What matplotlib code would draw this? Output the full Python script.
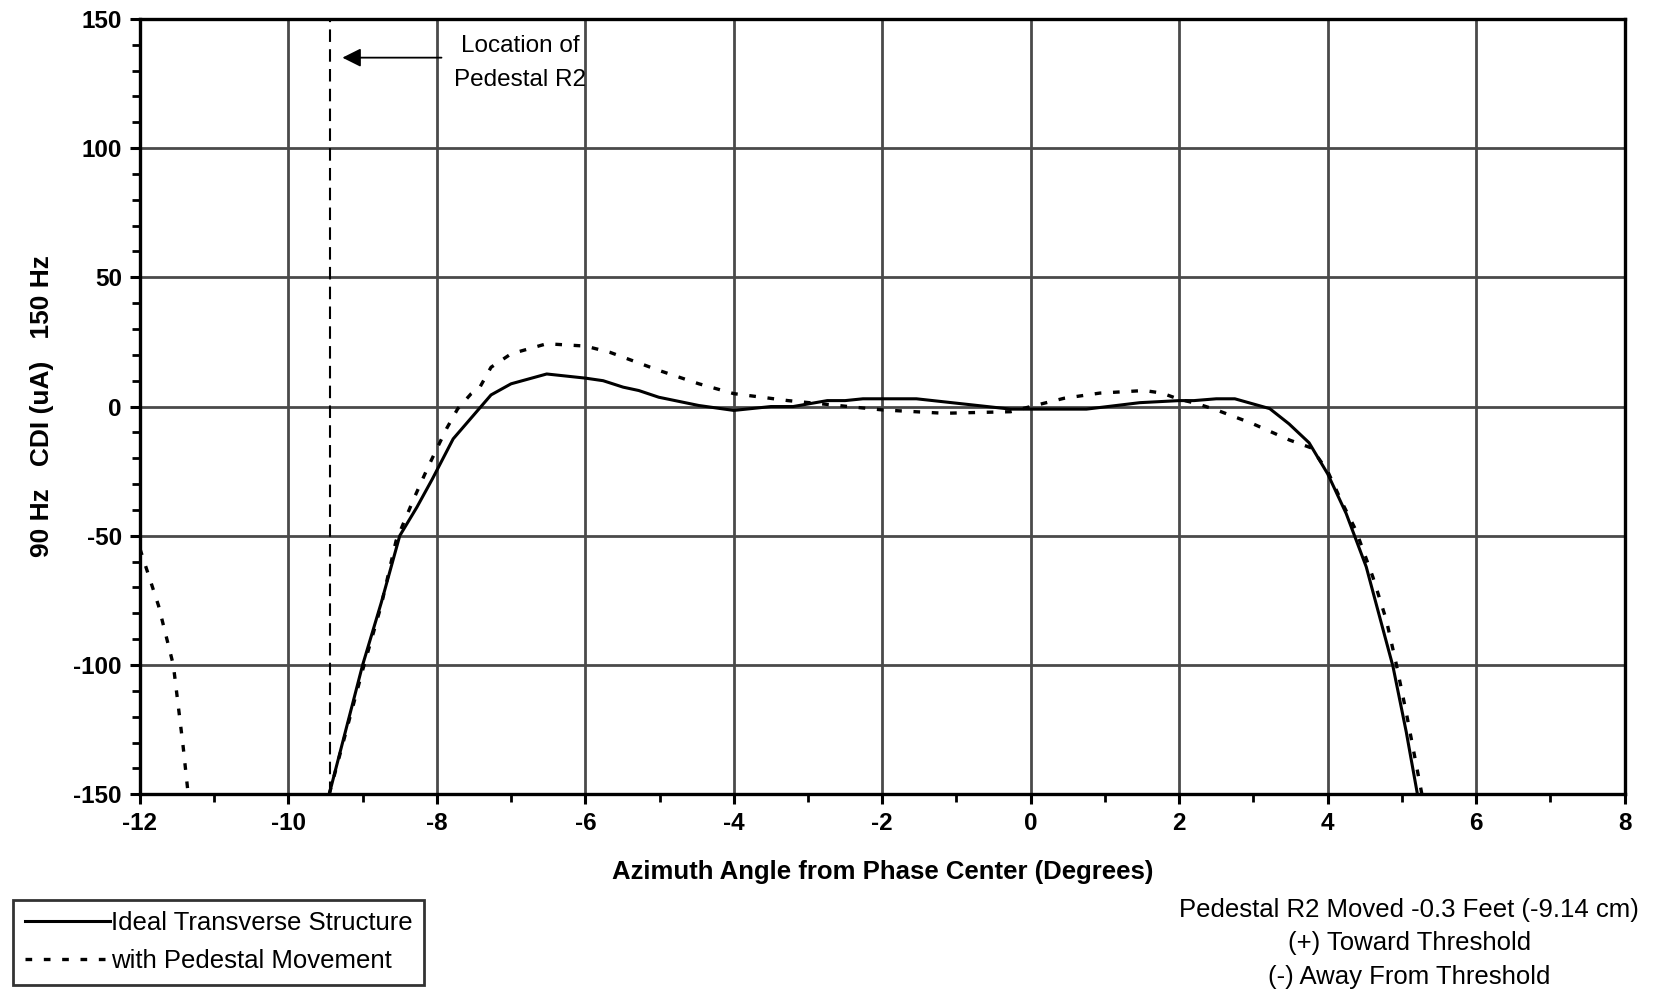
import numpy as np
import matplotlib
matplotlib.use("Agg")
import matplotlib.pyplot as plt
from matplotlib.ticker import MultipleLocator

# ideal structure (solid)
ideal_x = [-9.45, -9.0, -8.75, -8.5, -8.27, -8.06, -7.78, -7.27, -7.0, -6.52, -6.0, -5.76,
           -5.49, -5.28, -5.01, -4.47, -4.0, -3.5, -3.2, -2.74, -2.5, -2.26, -1.54, -0.27,
           0.75, 1.47, 2.0, 2.2, 2.5, 2.75, 3.22, 3.48, 3.75, 4.0, 4.25, 4.52, 4.76, 4.88,
           5.06, 5.21]
ideal_y = [-150, -100, -76, -50, -39, -28, -12.5, 4.5, 8.8, 12.6, 11, 10,
           7.5, 6.2, 3.6, 0.4, -1.5, 0, 0, 2.3, 2.3, 3, 3, -1,
           -1, 1.5, 2.3, 2.3, 3, 3, -0.8, -6.7, -14, -26, -41.4, -62, -87.7, -100.5,
           -126, -150]

# with pedestal movement (dotted), left branch drops off the chart
moved_left_x = [-12.0, -11.75, -11.55, -11.42, -11.35]
moved_left_y = [-55, -77, -100, -131, -150]
moved_x = [-9.45, -9.0, -8.75, -8.55, -8.3, -8.12, -7.99, -7.87, -7.72, -7.54, -7.42, -7.27,
           -7.0, -6.52, -6.0, -5.67, -5.01, -4.47, -4.0, -3.27, -2.66, -2.0, -1.17, -0.27,
           0.0, 0.45, 0.93, 1.53, 1.77, 2.0, 2.22, 2.5, 2.98, 3.49, 3.78, 4.0, 4.2, 4.38,
           4.61, 4.79, 4.92, 5.06, 5.27]
moved_y = [-150, -102, -77, -52, -35, -23.5, -15.7, -8.6, -0.9, 4.9, 7.5, 15.2,
           20.4, 24.3, 23.4, 21, 14, 8.8, 5, 2.3, 0.6, -1.3, -2.6, -2,
           0, 3.2, 5.2, 6.2, 5.2, 2.8, 1.3, -1.3, -6.5, -13, -16, -25, -37.5, -47.8,
           -66, -82.5, -99, -118.5, -150]

pedestal_x = -9.44

plt.rcParams['font.family'] = ['Liberation Sans', 'DejaVu Sans']
plt.rcParams['axes.unicode_minus'] = False

fig = plt.figure(figsize=(16.56, 9.94), dpi=100)
ax = fig.add_axes([0.0845, 0.201, 0.8965, 0.780])

ax.plot(ideal_x, ideal_y, color='black', lw=2.2, label='Ideal Transverse Structure', zorder=4)
dot = (0, (2, 3.5))
ax.plot(moved_x, moved_y, color='black', lw=2.4, linestyle=dot, label='with Pedestal Movement', zorder=4)
ax.plot(moved_left_x, moved_left_y, color='black', lw=2.4, linestyle=dot, zorder=4)

ax.axvline(pedestal_x, color='black', lw=1.5, linestyle=(0, (6, 3.5)), zorder=3)
ax.annotate('', xy=(-9.31, 135), xytext=(-7.9, 135),
            arrowprops=dict(arrowstyle='-|>', color='black', lw=1.3, mutation_scale=28))
ax.text(-6.88, 139.5, 'Location of', ha='center', va='center', fontsize=17.5)
ax.text(-6.88, 126.5, 'Pedestal R2', ha='center', va='center', fontsize=17.5)

ax.set_xlim(-12, 8)
ax.set_ylim(-150, 150)
ax.xaxis.set_major_locator(MultipleLocator(2))
ax.xaxis.set_minor_locator(MultipleLocator(1))
ax.yaxis.set_major_locator(MultipleLocator(50))
ax.yaxis.set_minor_locator(MultipleLocator(10))
ax.grid(which='major', color='#4a4a4a', lw=2.0)
ax.set_axisbelow(True)

for s in ax.spines.values():
    s.set_linewidth(2.4)
    s.set_color('black')
ax.tick_params(which='major', direction='out', length=7, width=2.2, labelsize=17.5, pad=6)
ax.tick_params(which='minor', direction='out', length=6, width=2.0)
for lab in ax.get_xticklabels() + ax.get_yticklabels():
    lab.set_fontweight('bold')

ax.set_xlabel('Azimuth Angle from Phase Center (Degrees)', fontsize=18.5, fontweight='bold', labelpad=18)
ax.set_ylabel('90 Hz   CDI (uA)   150 Hz', fontsize=19, fontweight='bold', labelpad=14)

leg = ax.legend(loc='upper left', bbox_to_anchor=(0.008, 0.095), bbox_transform=fig.transFigure,
                fontsize=18.5, frameon=True, fancybox=False, handlelength=3.3, handletextpad=0.05,
                borderpad=0.45, labelspacing=0.55, borderaxespad=0)
leg.get_frame().set_edgecolor('black')
leg.get_frame().set_linewidth(2.0)

fig.text(0.851, 0.097, 'Pedestal R2 Moved -0.3 Feet (-9.14 cm)\n(+) Toward Threshold\n(-) Away From Threshold',
         ha='center', va='top', fontsize=18.5, linespacing=1.5)

fig.savefig('out.png', dpi=100)
